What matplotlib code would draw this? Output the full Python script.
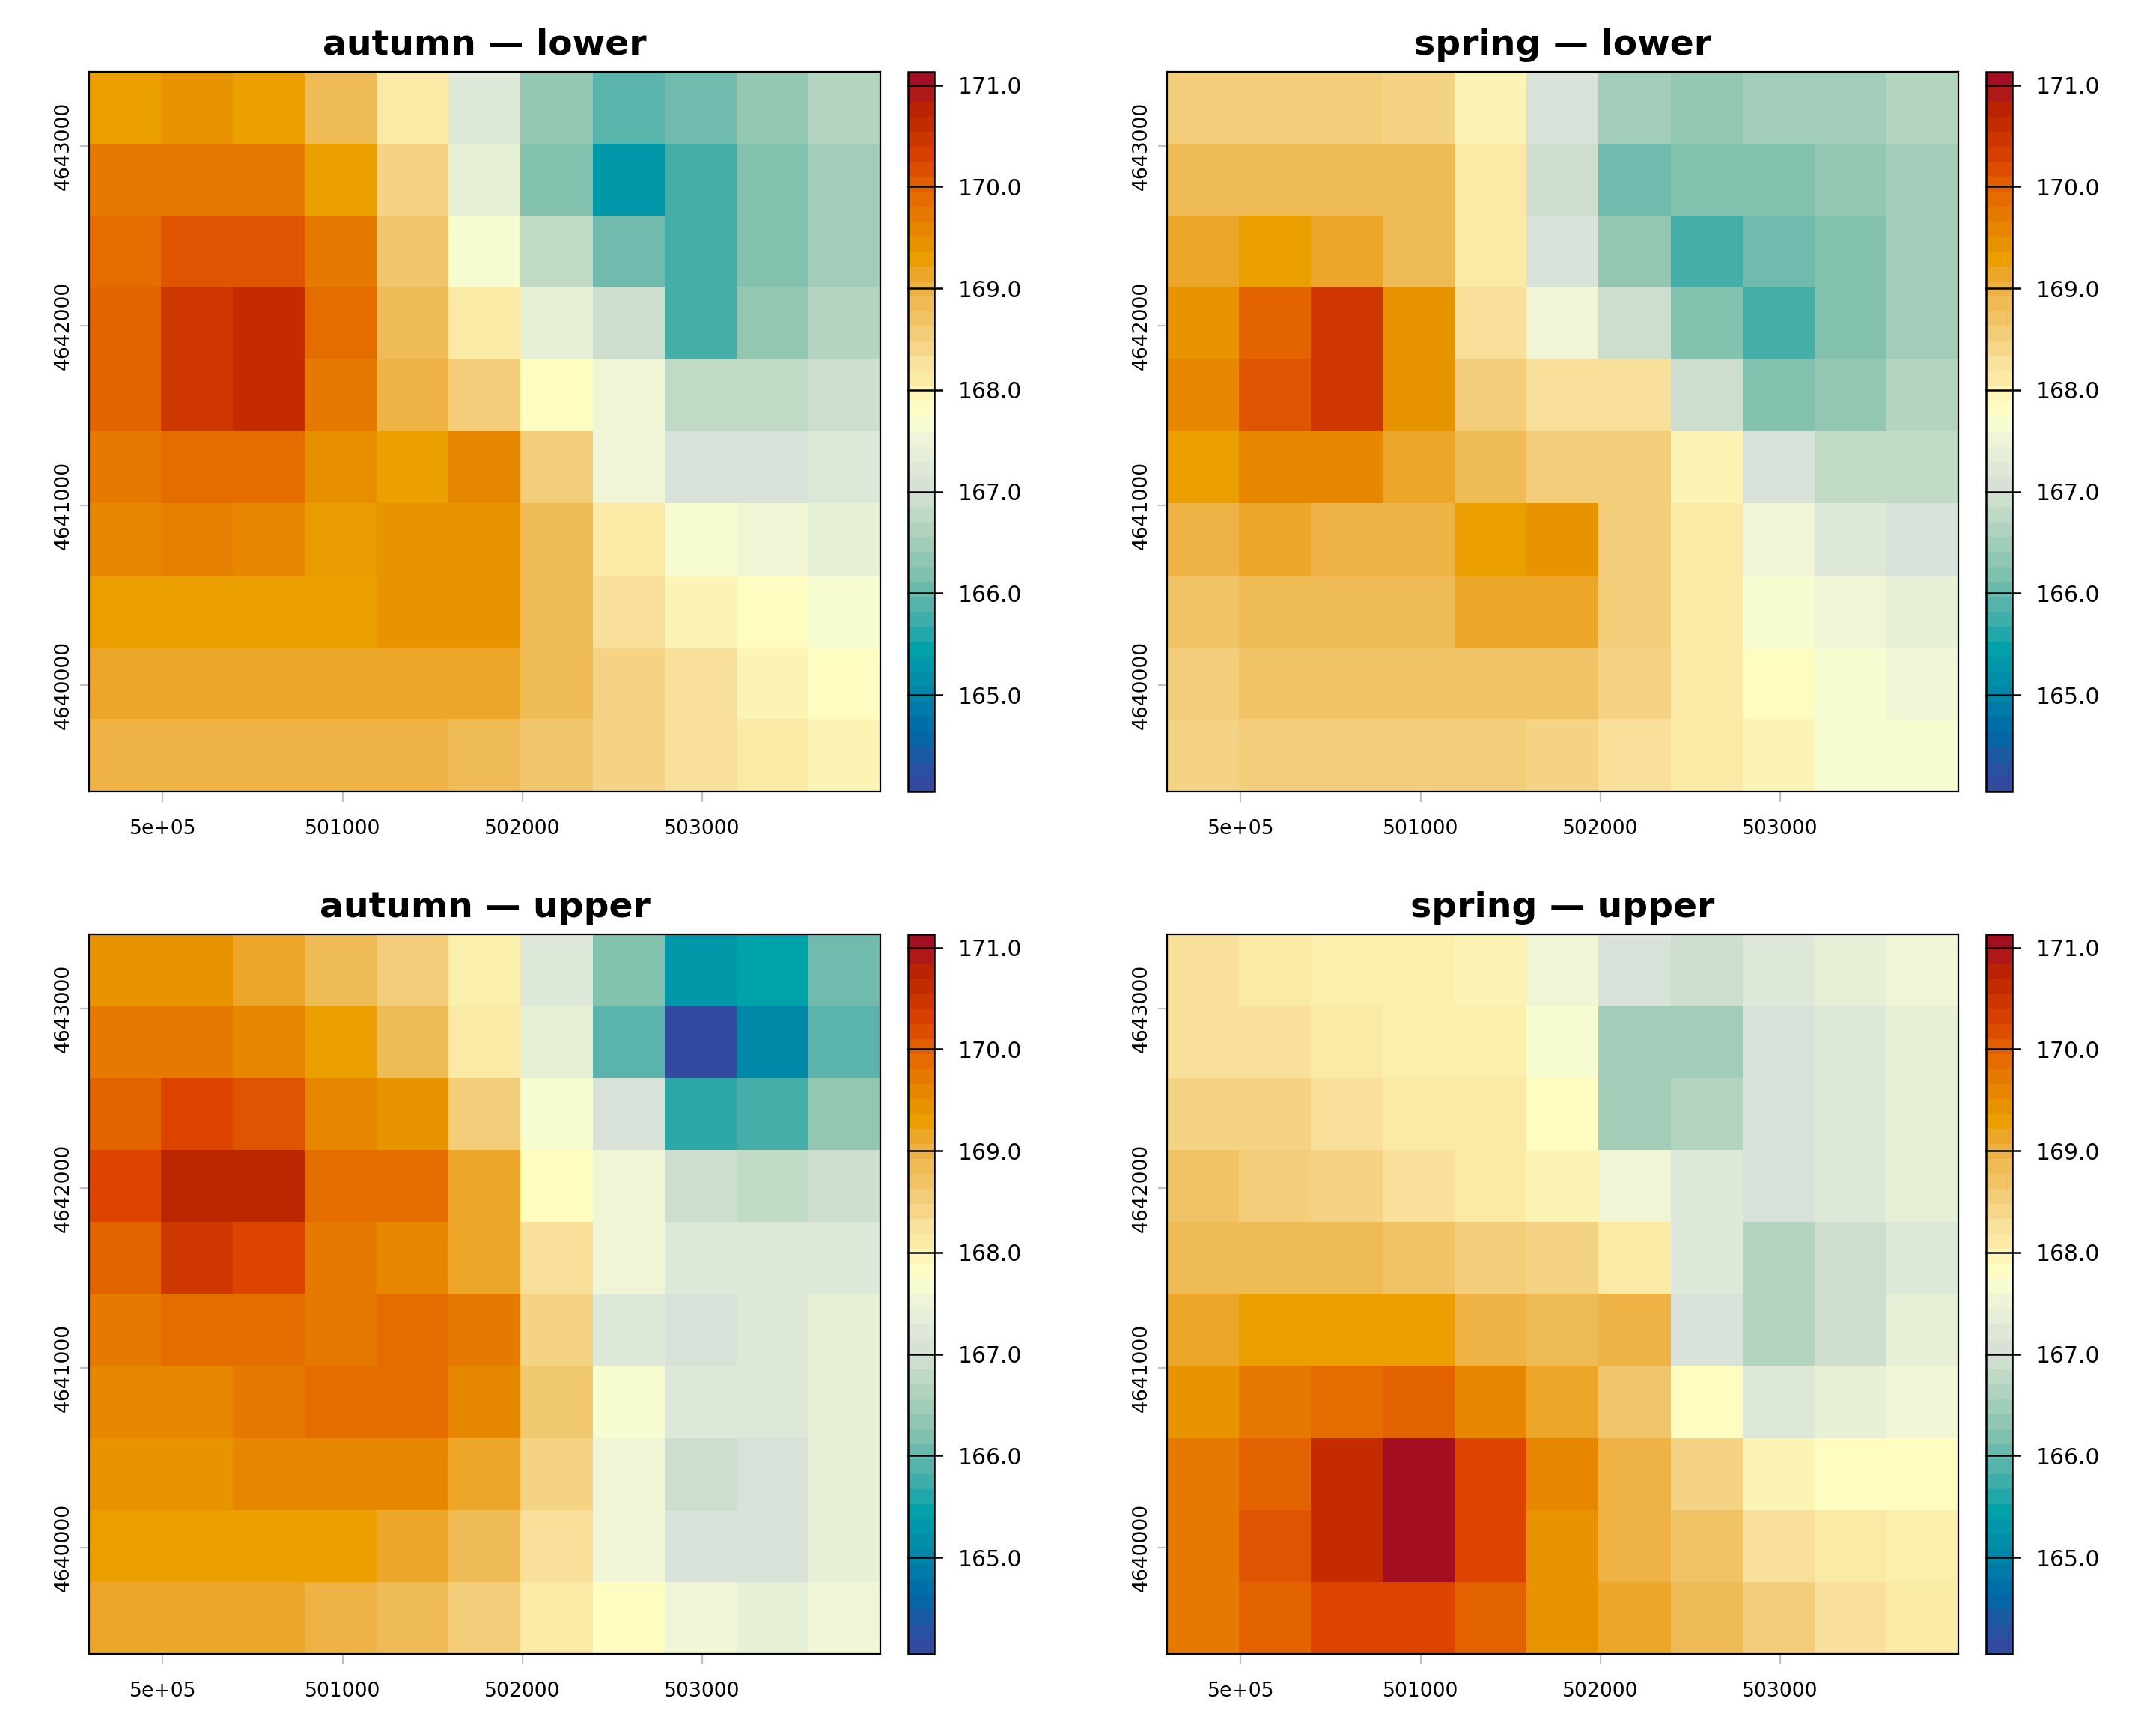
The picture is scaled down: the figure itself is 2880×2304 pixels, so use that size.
import numpy as np
import matplotlib
matplotlib.use("Agg")
import matplotlib.pyplot as plt
from matplotlib.colors import LinearSegmentedColormap, Normalize
from matplotlib import cm
import matplotlib.transforms as mtransforms

plt.rcParams['font.family'] = ['DejaVu Sans']

# ---------------- data ----------------
titles = ["autumn \u2014 lower", "spring \u2014 lower", "autumn \u2014 upper", "spring \u2014 upper"]
x_ticks = [500000, 501000, 502000, 503000]
x_tick_labels = ["5e+05", "501000", "502000", "503000"]
y_ticks = [4640000, 4641000, 4642000, 4643000]
y_tick_labels = ["4640000", "4641000", "4642000", "4643000"]
cbar_ticks = [165.0, 166.0, 167.0, 168.0, 169.0, 170.0, 171.0]
x_origin = 499590
y_origin = 4639410
cell_size = 400
vmin, vmax = 164.05, 171.13

autumn_lower = [
    [169.3, 169.45, 169.3, 168.85, 168.12, 167.25, 166.35, 165.9, 166.05, 166.35, 166.65],
    [169.78, 169.78, 169.78, 169.3, 168.45, 167.42, 166.2, 165.28, 165.75, 166.2, 166.5],
    [169.9, 170.15, 170.15, 169.78, 168.65, 167.7, 166.8, 166.05, 165.75, 166.2, 166.5],
    [170.02, 170.5, 170.65, 169.9, 168.85, 168.12, 167.42, 166.95, 165.75, 166.35, 166.65],
    [170.02, 170.5, 170.65, 169.78, 169.0, 168.55, 167.85, 167.55, 166.8, 166.8, 166.95],
    [169.78, 169.9, 169.9, 169.5, 169.3, 169.6, 168.55, 167.55, 167.1, 167.1, 167.25],
    [169.6, 169.7, 169.6, 169.35, 169.45, 169.45, 168.85, 168.12, 167.7, 167.55, 167.42],
    [169.3, 169.3, 169.3, 169.3, 169.45, 169.45, 168.85, 168.3, 167.98, 167.85, 167.7],
    [169.15, 169.15, 169.15, 169.15, 169.15, 169.15, 168.85, 168.45, 168.3, 167.98, 167.85],
    [169.0, 169.0, 169.0, 169.0, 169.0, 168.85, 168.65, 168.45, 168.3, 168.12, 167.98],
]
spring_lower = [
    [168.55, 168.55, 168.55, 168.45, 167.98, 167.1, 166.5, 166.35, 166.5, 166.5, 166.65],
    [168.85, 168.85, 168.85, 168.85, 168.12, 166.95, 166.05, 166.2, 166.2, 166.35, 166.5],
    [169.15, 169.3, 169.15, 168.85, 168.12, 167.1, 166.35, 165.75, 166.05, 166.2, 166.5],
    [169.45, 170.02, 170.5, 169.45, 168.3, 167.55, 166.95, 166.2, 165.75, 166.2, 166.5],
    [169.6, 170.15, 170.5, 169.45, 168.55, 168.3, 168.3, 166.95, 166.2, 166.35, 166.65],
    [169.3, 169.6, 169.6, 169.15, 168.85, 168.55, 168.55, 167.98, 167.1, 166.8, 166.8],
    [169.0, 169.15, 169.0, 169.0, 169.3, 169.45, 168.55, 168.12, 167.55, 167.25, 167.1],
    [168.7, 168.85, 168.85, 168.85, 169.15, 169.15, 168.55, 168.12, 167.7, 167.55, 167.42],
    [168.55, 168.7, 168.7, 168.7, 168.7, 168.7, 168.45, 168.12, 167.85, 167.7, 167.55],
    [168.45, 168.55, 168.55, 168.55, 168.55, 168.45, 168.3, 168.12, 167.98, 167.7, 167.7],
]
autumn_upper = [
    [169.45, 169.45, 169.15, 168.85, 168.55, 168.05, 167.25, 166.2, 165.28, 165.42, 166.05],
    [169.78, 169.78, 169.6, 169.3, 168.85, 168.12, 167.42, 165.9, 164.05, 165.0, 165.9],
    [170.02, 170.3, 170.15, 169.6, 169.45, 168.55, 167.7, 167.1, 165.6, 165.75, 166.35],
    [170.3, 170.8, 170.8, 169.9, 169.9, 169.15, 167.85, 167.55, 166.95, 166.8, 166.95],
    [170.02, 170.5, 170.3, 169.78, 169.6, 169.15, 168.3, 167.55, 167.25, 167.25, 167.25],
    [169.78, 169.9, 169.9, 169.78, 169.9, 169.78, 168.45, 167.25, 167.1, 167.25, 167.42],
    [169.6, 169.6, 169.78, 169.9, 169.9, 169.6, 168.6, 167.7, 167.25, 167.25, 167.42],
    [169.45, 169.45, 169.6, 169.6, 169.6, 169.15, 168.45, 167.55, 166.95, 167.1, 167.42],
    [169.3, 169.3, 169.3, 169.3, 169.15, 168.85, 168.3, 167.55, 167.1, 167.1, 167.42],
    [169.15, 169.15, 169.15, 169.0, 168.85, 168.55, 168.12, 167.85, 167.55, 167.42, 167.55],
]
spring_upper = [
    [168.3, 168.12, 168.05, 168.05, 167.98, 167.55, 167.1, 166.95, 167.25, 167.42, 167.55],
    [168.3, 168.3, 168.12, 168.05, 168.05, 167.7, 166.5, 166.5, 167.1, 167.25, 167.42],
    [168.45, 168.45, 168.3, 168.12, 168.12, 167.85, 166.5, 166.65, 167.1, 167.25, 167.42],
    [168.7, 168.55, 168.45, 168.3, 168.12, 167.98, 167.55, 167.25, 167.1, 167.25, 167.42],
    [168.85, 168.85, 168.85, 168.7, 168.55, 168.45, 168.12, 167.25, 166.65, 166.95, 167.25],
    [169.15, 169.3, 169.3, 169.3, 169.0, 168.85, 169.0, 167.1, 166.65, 166.95, 167.42],
    [169.45, 169.78, 169.9, 170.02, 169.6, 169.15, 168.65, 167.85, 167.25, 167.42, 167.55],
    [169.78, 170.02, 170.65, 171.12, 170.3, 169.6, 169.0, 168.45, 167.98, 167.85, 167.85],
    [169.78, 170.15, 170.65, 171.12, 170.3, 169.45, 169.0, 168.7, 168.3, 168.12, 168.05],
    [169.78, 170.02, 170.3, 170.3, 170.02, 169.45, 169.15, 168.85, 168.55, 168.3, 168.12],
]
panels = [autumn_lower, spring_lower, autumn_upper, spring_upper]

# palette anchors (value, colour)
pal_values = [164.05, 164.3, 164.55, 164.8, 165.0, 165.28, 165.42, 165.6, 165.75, 165.9,
              166.05, 166.2, 166.35, 166.5, 166.65, 166.8, 166.95, 167.1, 167.25, 167.42,
              167.55, 167.7, 167.85, 167.98, 168.12, 168.3, 168.45, 168.65, 168.85, 169.0,
              169.15, 169.3, 169.45, 169.6, 169.78, 169.9, 170.02, 170.15, 170.3, 170.5,
              170.65, 170.8, 170.95, 171.13]
pal_colors = ["#344aa0", "#2056a2", "#0068a6", "#007aa8", "#0088a8", "#0099aa", "#00a2a9", "#2ca8a9", "#46afaa", "#5bb5ad",
              "#70bbad", "#84c3b0", "#94c8b3", "#a3cfba", "#b3d4bf", "#c2dbc7", "#cfdfcf", "#d9e2d8", "#dfe9d8", "#e6f0d8",
              "#f0f6d6", "#f8fcd0", "#fffcc0", "#fdf5b6", "#fbeaa6", "#f8e09a", "#f5d486", "#f1c66c", "#f0bc58", "#efb245",
              "#eda82c", "#eca000", "#e99400", "#e88800", "#e67a00", "#e66e00", "#e46400", "#e05500", "#dc4400", "#d03800",
              "#c52d00", "#bc2600", "#b01a14", "#a30f22"]

pos = [(v - vmin) / (vmax - vmin) for v in pal_values]
cmap = LinearSegmentedColormap.from_list("pal", list(zip(pos, pal_colors)), N=1024)
cmap_bar = cmap.resampled(48)
norm = Normalize(vmin=vmin, vmax=vmax)

# ---------------- figure ----------------
W, H = 2880, 2304
fig = plt.figure(figsize=(W / 200, H / 200), dpi=200)

ax_w, ax_h = 1057 / W, 961 / H
lefts = [119 / W, 1559 / W]
bottoms = [1 - 1057 / H, 1 - 2209 / H]
cb_off = (1213 - 119) / W
cb_w = 35 / W

extent = [x_origin, x_origin + 11 * cell_size, y_origin, y_origin + 10 * cell_size]

for i, (data, title) in enumerate(zip(panels, titles)):
    r, c = divmod(i, 2)
    ax = fig.add_axes([lefts[c], bottoms[r], ax_w, ax_h])
    ax.imshow(np.array(data), cmap=cmap, norm=norm, extent=extent, origin="upper",
              interpolation="nearest", aspect="auto")
    ax.set_xlim(extent[0], extent[1])
    ax.set_ylim(extent[2], extent[3])
    ax.set_title(title, fontsize=17, fontweight="bold", pad=8.3)
    ax.set_xticks(x_ticks)
    ax.set_xticklabels(x_tick_labels, fontsize=9.6)
    ax.set_yticks(y_ticks)
    ax.set_yticklabels(y_tick_labels, fontsize=9.6, rotation=90, va="center")
    ax.tick_params(axis="x", length=5.2, width=0.8, color="#c0c0c0", pad=8)
    ax.tick_params(axis="y", length=4.2, width=0.8, color="#c0c0c0", pad=3.6)
    for sp in ax.spines.values():
        sp.set_linewidth(0.8)
        sp.set_color("black")

    cax = fig.add_axes([lefts[c] + cb_off, bottoms[r], cb_w, ax_h])
    sm = cm.ScalarMappable(norm=norm, cmap=cmap_bar)
    cb = fig.colorbar(sm, cax=cax)
    cb.outline.set_linewidth(0.9)
    cb.outline.set_edgecolor("black")
    cax.set_yticks(cbar_ticks)
    cax.set_yticklabels([f"{t:.1f}" for t in cbar_ticks], fontsize=10.7)
    cax.tick_params(axis="y", length=0, pad=11.5)
    trans = mtransforms.blended_transform_factory(cax.transAxes, cax.transData)
    for t in cbar_ticks:
        cax.plot([0, 1.29], [t, t], transform=trans, color="black", lw=0.9, clip_on=False)

fig.savefig("out.png", dpi=200)
